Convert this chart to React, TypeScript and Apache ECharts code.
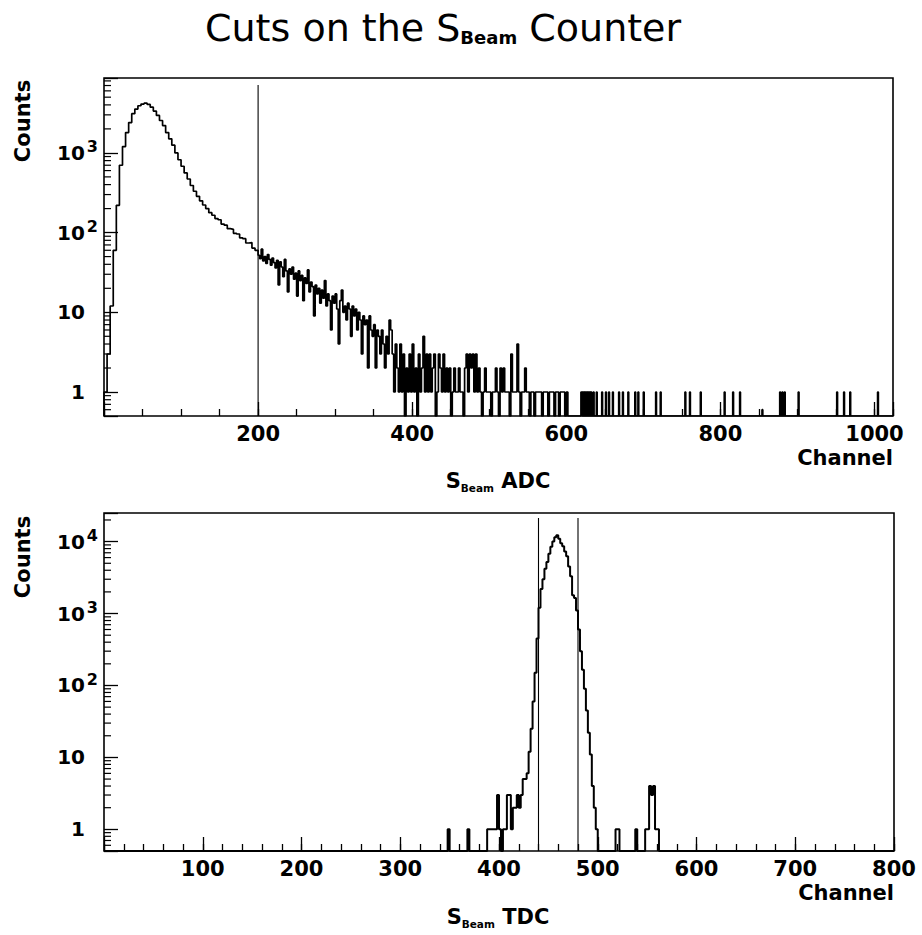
import React, { useEffect, useRef } from 'react';
import * as echarts from 'echarts';

// ---------------- data ----------------
// S_Beam ADC spectrum (top panel)
const adcXRange = [0, 1024];
const adcYRange = [0.5, 8700];
const adcCut = 200;
const adcCutTop = 7100;
const adcPeakStart = 0;
const adcPeakWidth = 4;
const adcPeakCounts = [
  1, 3, 12, 60, 220, 700, 1200, 1800, 2400, 3100,
  3550, 3900, 4100, 4200, 4050, 3750, 3350, 2950, 2550, 2200,
  1800, 1500, 1250, 1000, 820, 680, 560, 470, 390, 330,
  285, 250, 222, 200, 178, 165, 150, 145, 128, 124,
  112, 110, 98, 96, 86, 84, 74, 75, 64, 60,
];
const adcTailStart = 200;
const adcTailWidth = 2;
const adcTailCounts = [
  52, 47, 62, 44, 50, 41, 53, 46, 39, 48,
  42, 36, 45, 22, 43, 37, 28, 46, 33, 18,
  35, 30, 37, 26, 31, 16, 33, 25, 29, 14,
  27, 23, 34, 18, 24, 21, 9, 22, 17, 20,
  13, 19, 15, 25, 12, 17, 14, 6, 16, 13,
  17, 11, 4, 14, 19, 10, 12, 8, 13, 11,
  5, 12, 9, 11, 6, 10, 8, 3, 9, 7,
  8, 2, 9, 6, 5, 7, 2, 6, 5, 3,
  6, 4, 2, 5, 3, 8, 6, 3, 1, 4,
];
const adcLowStart = 380;
const adcLowWidth = 2;
const adcLowCounts = [
  2, 1, 4, 1, 3, 0, 2, 1, 3, 1,
  4, 1, 2, 0, 3, 1, 2, 5, 1, 3,
  1, 3, 1, 2, 3, 0, 1, 3, 2, 1,
  3, 1, 2, 1, 2, 0, 1, 2, 1, 1,
  2, 1, 1, 0, 2, 3, 1, 3, 2, 3,
  1, 3, 1, 2, 1, 0, 1, 2, 1, 1,
  1, 0, 1, 1, 2, 1, 0, 2, 1, 2,
  1, 1, 1, 0, 3, 1, 1, 1, 4, 1,
  0, 1, 1, 2, 1, 1, 0, 1, 1, 0,
  1, 1, 1, 1, 0, 1, 1, 1, 0, 1,
  1, 1, 0, 1, 1, 0, 1, 1, 1, 0,
  1, 0,
];
const adcSparseWidth = 1;
const adcSparseChannels = [
  619, 620, 622, 624, 626, 628, 630, 632, 635, 639,
  646, 651, 655, 660, 668, 673, 680, 689, 693, 700,
  716, 722, 754, 760, 774, 805, 816, 825, 854, 877,
  880, 883, 901, 951, 960, 968, 1004,
];
const adcSparseCounts = [
  1, 1, 1, 1, 1, 1, 1, 1, 1, 1,
  1, 1, 1, 1, 1, 1, 1, 1, 1, 1,
  1, 1, 1, 1, 1, 1, 1, 1, 0.6, 1,
  1, 1, 1, 1, 1, 1, 1,
];

// S_Beam TDC spectrum (bottom panel)
const tdcXRange = [0, 800];
const tdcYRange = [0.5, 25000];
const tdcCuts = [440, 480];
const tdcCutTop = 21300;
const tdcCoreStart = 386;
const tdcCoreWidth = 2;
const tdcCoreCounts = [
  0, 1, 1, 1, 1, 1, 3, 1, 0, 1,
  1, 3, 3, 1, 2, 2, 3, 2, 3, 5,
  5, 6, 12, 25, 60, 150, 450, 1200, 2200, 3000,
  4200, 5200, 6800, 8500, 10000, 11500, 12300, 11000, 9500, 8600,
  7300, 6250, 4500, 3300, 1800, 1650, 1100, 600, 300, 165,
  90, 45, 22, 11, 4, 2, 1, 0,
];
const tdcSideStart = 548;
const tdcSideWidth = 2;
const tdcSideCounts = [1, 1, 4, 3, 4, 1, 1];
const tdcSparseWidth = 2;
const tdcSparseChannels = [348, 368, 518, 520, 538];
const tdcSparseCounts = [1, 1, 1, 1, 1];

// axis ticks
const adcXMajor = 200;
const adcXMinor = 50;
const tdcXMajor = 100;
const tdcXMinor = 20;
const logMinorMultipliers = [2, 3, 4, 5, 6, 7, 8, 9];
const logDecades = [-1, 0, 1, 2, 3, 4, 5];

// ---------------- helpers ----------------
type Bin = [number, number, number];
const binsFrom = (start: number, width: number, counts: number[]): Bin[] =>
  counts.map((c, i) => [start + i * width, start + (i + 1) * width, c] as Bin);
const binsAt = (channels: number[], width: number, counts: number[]): Bin[] =>
  channels.map((ch, i) => [ch, ch + width, counts[i]] as Bin);

function stepPoints(bins: Bin[], floor: number, xMin: number, xMax: number) {
  const sorted = [...bins].sort((a, b) => a[0] - b[0]);
  const pts: number[][] = [[xMin, floor]];
  let prevHi = xMin;
  for (const [lo, hi, c] of sorted) {
    if (lo > prevHi) pts.push([prevHi, floor]);
    pts.push([lo, Math.max(c, floor)]);
    prevHi = hi;
  }
  pts.push([prevHi, floor]);
  pts.push([xMax, floor]);
  return pts;
}

function logMinorTicks(min: number, max: number) {
  const out: number[] = [];
  for (const e of logDecades) {
    for (const m of logMinorMultipliers) {
      const v = m * Math.pow(10, e);
      if (v > min && v < max) out.push(v);
    }
  }
  return out;
}

const FONT = 'DejaVu Sans';
const BLACK = '#000';

const yLabelFormatter = (v: number) => {
  const lg = Math.log10(v);
  const e = Math.round(lg);
  if (Math.abs(lg - e) > 1e-6) return '';
  if (e === 0) return '{b|1}{p| }';
  if (e === 1) return '{b|10}{p| }';
  return `{b|10}{s|${e}}`;
};

const yAxisLabel = {
  color: BLACK,
  margin: 6,
  formatter: yLabelFormatter,
  rich: {
    b: { fontSize: 20, fontWeight: 'bold', fontFamily: FONT, lineHeight: 28, color: BLACK },
    s: { fontSize: 16, fontWeight: 'bold', fontFamily: FONT, lineHeight: 16, verticalAlign: 'top', padding: [0, 0, 0, 2], color: BLACK },
    p: { fontSize: 16, width: 13, lineHeight: 16 },
  },
};

const xLabel = (major: number) => ({
  color: BLACK,
  margin: 7,
  fontSize: 21,
  fontWeight: 'bold',
  fontFamily: FONT,
  formatter: (v: number) => (v > 0 && Math.abs(v % major) < 1e-6 ? String(v) : ''),
});

function makeXAxes(grid: number, range: number[], major: number, minor: number) {
  return [
    {
      gridIndex: grid, type: 'value', min: range[0], max: range[1], interval: major, position: 'bottom',
      axisLine: { show: false },
      axisTick: { show: true, inside: true, length: 14, lineStyle: { color: BLACK, width: 1.3 } },
      axisLabel: xLabel(major),
      splitLine: { show: false },
    },
    {
      gridIndex: grid, type: 'value', min: range[0], max: range[1], interval: minor, position: 'bottom',
      axisLine: { show: false },
      axisTick: { show: true, inside: true, length: 7, lineStyle: { color: BLACK, width: 1.3 } },
      axisLabel: { show: false },
      splitLine: { show: false },
    },
  ];
}

function makeYAxis(grid: number, range: number[]) {
  return {
    gridIndex: grid, type: 'log', logBase: 10, min: range[0], max: range[1],
    axisLine: { show: false },
    axisTick: { show: true, inside: true, length: 14, lineStyle: { color: BLACK, width: 1.3 } },
    axisLabel: yAxisLabel,
    splitLine: { show: false },
    minorTick: { show: false },
  };
}

function minorTickSeries(xIdx: number, yIdx: number, xMin: number, yr: number[]) {
  return {
    type: 'custom',
    xAxisIndex: xIdx,
    yAxisIndex: yIdx,
    silent: true,
    clip: false,
    data: logMinorTicks(yr[0], yr[1]).map((v) => [xMin, v]),
    renderItem: (_p: any, api: any) => {
      const pt = api.coord([xMin, api.value(1)]);
      return {
        type: 'line',
        shape: { x1: pt[0], y1: pt[1], x2: pt[0] + 7, y2: pt[1] },
        style: { stroke: BLACK, lineWidth: 1.2 },
      };
    },
  };
}

function histSeries(xIdx: number, yIdx: number, data: number[][], width: number) {
  return {
    type: 'line', xAxisIndex: xIdx, yAxisIndex: yIdx, step: 'end', data,
    symbol: 'none', showSymbol: false, silent: true, z: 3,
    lineStyle: { color: BLACK, width },
  };
}

function cutSeries(xIdx: number, yIdx: number, x: number, y0: number, y1: number) {
  return {
    type: 'line', xAxisIndex: xIdx, yAxisIndex: yIdx, data: [[x, y0], [x, y1]],
    symbol: 'none', showSymbol: false, silent: true, z: 2,
    lineStyle: { color: BLACK, width: 1.1 },
  };
}

const subRich = (base: number, sub: number, lh: number, weight: string) => ({
  a: { fontSize: base, fontWeight: weight, fontFamily: FONT, lineHeight: lh, fill: BLACK, color: BLACK },
  b: { fontSize: sub, fontWeight: 'bold', fontFamily: FONT, lineHeight: sub, verticalAlign: 'bottom', fill: BLACK, color: BLACK },
});

export default function App() {
  const ref = useRef<HTMLDivElement>(null);

  useEffect(() => {
    if (!ref.current) return;
    const chart = echarts.init(ref.current, null, { renderer: 'svg' });

    const adcBins = [
      ...binsFrom(adcPeakStart, adcPeakWidth, adcPeakCounts),
      ...binsFrom(adcTailStart, adcTailWidth, adcTailCounts),
      ...binsFrom(adcLowStart, adcLowWidth, adcLowCounts),
      ...binsAt(adcSparseChannels, adcSparseWidth, adcSparseCounts),
    ];
    const tdcBins = [
      ...binsFrom(tdcCoreStart, tdcCoreWidth, tdcCoreCounts),
      ...binsFrom(tdcSideStart, tdcSideWidth, tdcSideCounts),
      ...binsAt(tdcSparseChannels, tdcSparseWidth, tdcSparseCounts),
    ];

    const option: any = {
      animation: false,
      backgroundColor: '#fff',
      grid: [
        { left: 104, top: 78, width: 789, height: 338, show: true, borderColor: BLACK, borderWidth: 1.6, outerBoundsMode: 'none', containLabel: false },
        { left: 104, top: 513, width: 790, height: 338, show: true, borderColor: BLACK, borderWidth: 1.6, outerBoundsMode: 'none', containLabel: false },
      ],
      xAxis: [
        ...makeXAxes(0, adcXRange, adcXMajor, adcXMinor),
        ...makeXAxes(1, tdcXRange, tdcXMajor, tdcXMinor),
      ],
      yAxis: [makeYAxis(0, adcYRange), makeYAxis(1, tdcYRange)],
      series: [
        histSeries(0, 0, stepPoints(adcBins, adcYRange[0], adcXRange[0], adcXRange[1]), 1.7),
        cutSeries(0, 0, adcCut, adcYRange[0], adcCutTop),
        minorTickSeries(0, 0, adcXRange[0], adcYRange),
        histSeries(2, 1, stepPoints(tdcBins, tdcYRange[0], tdcXRange[0], tdcXRange[1]), 2),
        ...tdcCuts.map((c) => cutSeries(2, 1, c, tdcYRange[0], tdcCutTop)),
        minorTickSeries(2, 1, tdcXRange[0], tdcYRange),
      ],
      graphic: [
        {
          type: 'text', x: 205, y: 27.5,
          style: { text: '{a|Cuts on the S}{b|Beam}{a| Counter}', align: 'left', verticalAlign: 'middle', rich: subRich(38, 18, 38, 'normal') },
        },
        {
          type: 'text', x: 23, y: 121, rotation: Math.PI / 2,
          style: { text: 'Counts', fontSize: 21, fontWeight: 'bold', fontFamily: FONT, align: 'center', verticalAlign: 'middle', fill: BLACK },
        },
        {
          type: 'text', x: 23, y: 557, rotation: Math.PI / 2,
          style: { text: 'Counts', fontSize: 21, fontWeight: 'bold', fontFamily: FONT, align: 'center', verticalAlign: 'middle', fill: BLACK },
        },
        {
          type: 'text', x: 893, y: 458,
          style: { text: 'Channel', fontSize: 21, fontWeight: 'bold', fontFamily: FONT, align: 'right', verticalAlign: 'middle', fill: BLACK },
        },
        {
          type: 'text', x: 894, y: 893,
          style: { text: 'Channel', fontSize: 21, fontWeight: 'bold', fontFamily: FONT, align: 'right', verticalAlign: 'middle', fill: BLACK },
        },
        {
          type: 'text', x: 498, y: 481,
          style: { text: '{a|S}{b|Beam}{a| ADC}', align: 'center', verticalAlign: 'middle', rich: subRich(21, 10.5, 24, 'bold') },
        },
        {
          type: 'text', x: 498, y: 917,
          style: { text: '{a|S}{b|Beam}{a| TDC}', align: 'center', verticalAlign: 'middle', rich: subRich(21, 10.5, 24, 'bold') },
        },
      ],
    };

    chart.setOption(option);
    return () => chart.dispose();
  }, []);

  return (
    <div
      ref={ref}
      style={{ position: 'absolute', left: 0, top: 0, width: 922, height: 935, background: '#fff' }}
    />
  );
}
